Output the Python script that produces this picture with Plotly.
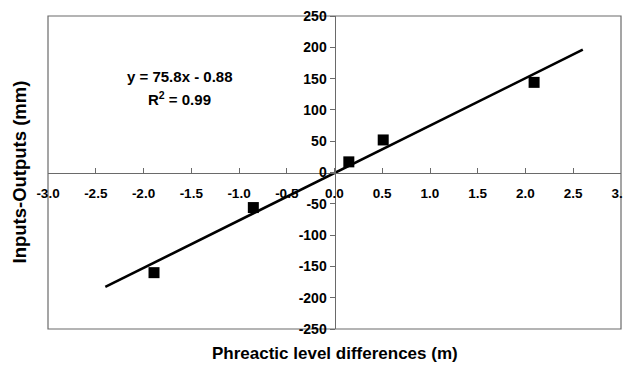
import plotly.graph_objects as go

# Data
x_obs = [-1.89, -0.85, 0.15, 0.51, 2.09]
y_obs = [-160, -56, 17, 52, 144]
fit_x = [-2.4, 2.6]
fit_y = [-182.8, 196.2]
eq_text = "y = 75.8x - 0.88"
r2_text = "R<sup>2</sup> = 0.99"
x_ticks = [-3.0, -2.5, -2.0, -1.5, -1.0, -0.5, 0.0, 0.5, 1.0, 1.5, 2.0, 2.5, 3.0]
y_ticks = [-250, -200, -150, -100, -50, 0, 50, 100, 150, 200, 250]

FONT = "Liberation Sans"
AX = "#6a6a6a"

fig = go.Figure()
fig.add_trace(go.Scatter(x=fit_x, y=fit_y, mode="lines",
                         line=dict(color="black", width=2.6), showlegend=False,
                         hoverinfo="skip"))
fig.add_trace(go.Scatter(x=x_obs, y=y_obs, mode="markers",
                         marker=dict(symbol="square", size=11, color="black"),
                         showlegend=False))

fig.update_layout(
    width=623, height=357,
    margin=dict(l=40, r=10, t=8, b=36, autoexpand=False),
    paper_bgcolor="white", plot_bgcolor="white",
    font=dict(family=FONT, color="black"),
    xaxis=dict(range=[-3, 3], tickvals=x_ticks, ticktext=[f"{v:.1f}" for v in x_ticks],
               anchor="free", position=0.5, showline=True, linecolor=AX, linewidth=1,
               ticks="inside", ticklen=5, tickcolor=AX, showgrid=False, zeroline=False,
               ticklabelstandoff=8, automargin=False, ticklabeloverflow="allow",
               tickfont=dict(family=FONT, size=13.5, weight="bold", color="black")),
    yaxis=dict(range=[-250, 250], tickvals=y_ticks, ticktext=[str(v) for v in y_ticks],
               anchor="free", position=0.5, showline=True, linecolor=AX, linewidth=1,
               ticks="outside", ticklen=5, tickcolor=AX, showgrid=False, zeroline=False,
               automargin=False, ticklabeloverflow="allow",
               tickfont=dict(family=FONT, size=14, weight="bold", color="black")),
    shapes=[dict(type="rect", xref="paper", yref="paper", x0=0, x1=1, y0=0, y1=1,
                 line=dict(color=AX, width=1.2), layer="below")],
    annotations=[
        dict(text=eq_text, x=-1.62, y=153, xref="x", yref="y", showarrow=False,
             font=dict(family=FONT, size=15, weight="bold")),
        dict(text=r2_text, x=-1.62, y=118, xref="x", yref="y", showarrow=False,
             font=dict(family=FONT, size=15, weight="bold")),
        dict(text="Phreactic level differences (m)", x=0.5, y=0, xref="paper", yref="paper",
             yanchor="middle", yshift=-24, showarrow=False,
             font=dict(family=FONT, size=17, weight="bold")),
        dict(text="Inputs-Outputs (mm)", x=0, y=0.5, xref="paper", yref="paper",
             xanchor="center", xshift=-29, textangle=-90, showarrow=False,
             font=dict(family=FONT, size=18.5, weight="bold")),
    ],
)

fig.write_html("out.html")
